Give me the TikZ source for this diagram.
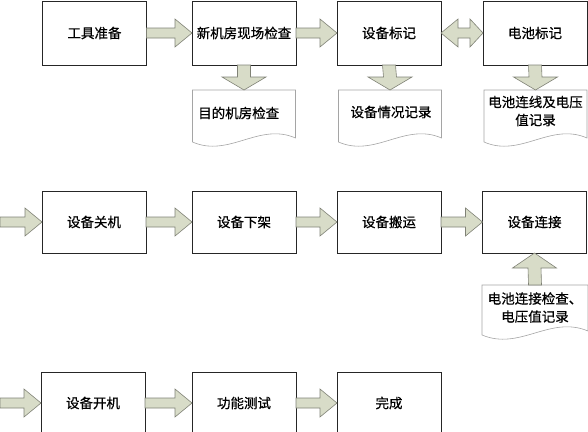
\documentclass[tikz,border=0pt]{standalone}
\usepackage{fontspec}
\setmainfont{Noto Sans CJK SC}[BoldFont=Noto Sans CJK SC, BoldFeatures={FakeBold=0.6}]
\usetikzlibrary{calc}
\definecolor{arrfill}{RGB}{216,220,200}
\definecolor{arrline}{RGB}{128,130,118}
\definecolor{docline}{RGB}{165,165,165}
\tikzset{
 box/.style={draw=black!85, line width=0.8pt, minimum width=104pt, minimum height=64pt, inner sep=0pt, outer sep=0pt, font=\fontsize{13.5}{15}\selectfont\bfseries},
 docnode/.style={minimum width=103pt, minimum height=50pt, inner sep=0pt, outer sep=0pt, align=center},
 doctext/.style={font=\fontsize{13.5}{18}\selectfont\bfseries, align=center, inner sep=0pt},
 blockarr/.style={fill=arrfill, draw=arrline, line width=0.6pt, line join=miter},
 docshape/.style={draw=docline, line width=0.6pt, fill=white},
}
\newcommand\harr[2]{\path[blockarr] ($(#1)+(0,5)$) -- ($(#2)+(-17,5)$) -- ($(#2)+(-17,14)$) -- (#2) -- ($(#2)+(-17,-14)$) -- ($(#2)+(-17,-5)$) -- ($(#1)+(0,-5)$) -- cycle;}
\newcommand\varr[3]{\path[blockarr] ($(#1)+(-6.5,0)$) -- ($(#2)+(-6.5,#3)$) -- ($(#2)+(-22,#3)$) -- (#2) -- ($(#2)+(22,#3)$) -- ($(#2)+(6.5,#3)$) -- ($(#1)+(6.5,0)$) -- cycle;}
\newcommand\dharr[2]{\path[blockarr] (#1) -- ($(#1)+(17,14)$) -- ($(#1)+(17,5)$) -- ($(#2)+(-13,5)$) -- ($(#2)+(-13,14)$) -- (#2) -- ($(#2)+(-13,-14)$) -- ($(#2)+(-13,-5)$) -- ($(#1)+(17,-5)$) -- ($(#1)+(17,-14)$) -- cycle;}
\newcommand\docdraw[1]{\path[docshape] (#1.north west) -- (#1.north east) -- ($(#1.south east)+(0,-2)$) .. controls ($(#1.south)+(15,-18)$) and ($(#1.south)+(-15,18)$) .. ($(#1.south west)+(0,2)$) -- cycle;}
\begin{document}
\begin{tikzpicture}[x=1pt,y=-1pt]
\useasboundingbox (0,0) rectangle (588,431);
\clip (0,0) rectangle (588,431);
% row 1
\node[box] (a1) at (94.5,33) {工具准备};
\node[box] (a2) at (244,33) {新机房现场检查};
\node[box] (a3) at (389,33) {设备标记};
\node[box] (a4) at (535,33) {电池标记};
% docs row 1
\node[docnode] (d2) at (244,115) {};
\docdraw{d2}
\node[doctext, anchor=west] (t2) at (198,113) {目的机房检查};
\node[docnode] (d3) at (390,115) {};
\docdraw{d3}
\node[doctext] (t3) at (391,112) {设备情况记录};
\node[docnode] (d4) at (535.5,115) {};
\docdraw{d4}
\node[doctext] (t4) at (535.5,111) {电池连线及电压\\值记录};
% row 2
\coordinate (in2) at (0,222);
\node[box, minimum height=62pt] (b1) at (94,222) {设备关机};
\node[box, minimum height=62pt] (b2) at (244,222) {设备下架};
\node[box, minimum height=62pt] (b3) at (389,222) {设备搬运};
\node[box, minimum height=62pt] (b4) at (534.5,222) {设备连接};
\node[docnode, minimum width=106pt, minimum height=48pt] (d5) at (535,309) {};
\docdraw{d5}
\node[doctext] (t5) at (535,307.5) {电池连接检查、\\电压值记录};
% row 3
\coordinate (in3) at (0,403);
\node[box, minimum height=62pt] (c1) at (93,403) {设备开机};
\node[box, minimum height=62pt] (c2) at (244,403) {功能测试};
\node[box, minimum height=62pt] (c3) at (389,403) {完成};
% arrows
\harr{a1.east}{a2.west}
\harr{a2.east}{a3.west}
\dharr{a3.east}{a4.west}
\varr{a2.south}{d2.north}{-13}
\varr{a3.south}{d3.north}{-13}
\varr{a4.south}{d4.north}{-13}
\harr{in2}{b1.west}
\harr{b1.east}{b2.west}
\harr{b2.east}{b3.west}
\harr{b3.east}{b4.west}
\varr{d5.north}{b4.south}{15}
\harr{in3}{c1.west}
\harr{c1.east}{c2.west}
\harr{c2.east}{c3.west}
\end{tikzpicture}
\end{document}
